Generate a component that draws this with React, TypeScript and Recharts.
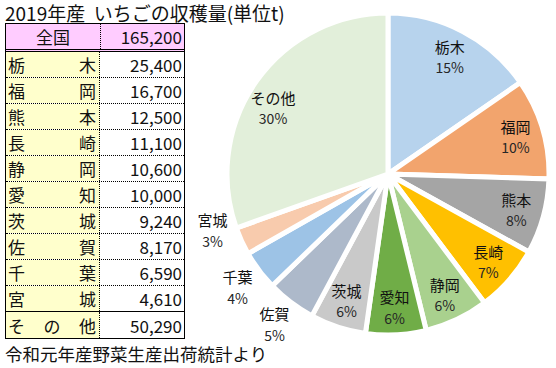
import { PieChart, Pie, Cell } from 'recharts';

const prefectures = ['栃木', '福岡', '熊本', '長崎', '静岡', '愛知', '茨城', '佐賀', '千葉', '宮城', 'その他'];
const harvest = [25400, 16700, 12500, 11100, 10600, 10000, 9240, 8170, 6590, 4610, 50290];
const totalHarvest = 165200;
const sliceColors = [
  '#B7D3ED', '#F2A46D', '#A5A5A5', '#FFC000', '#A9D18E', '#70AD47',
  '#C9C9C9', '#ADB9CA', '#9DC3E6', '#F8CBAD', '#E2EFDA',
];

const titleText = '2019年産  いちごの収穫量(単位t)';
const sourceText = '令和元年産野菜生産出荷統計より';

const chartData = prefectures.map((name, i) => ({ name, value: harvest[i] }));

const RAD = Math.PI / 180;
const FONT = '"Noto Sans CJK JP", "Noto Sans", sans-serif';

// small slices get their label outside the pie, like Excel's best fit
function SliceLabel(props: any) {
  const { cx, cy, midAngle, index, percent } = props;
  const outside = index >= 7 && index <= 9;
  let r = outside ? 188 : 133;
  let angle = midAngle;
  if (index === 9) {
    r = 184;
    angle = midAngle - 7;
  }
  if (index === 10) angle = midAngle + 5;
  const x = cx + r * Math.cos(-angle * RAD);
  const y = cy + r * Math.sin(-angle * RAD);
  return (
    <g>
      <text x={x} y={y - 10} textAnchor="middle" dominantBaseline="central"
        fontSize={15} fill="#111" fontFamily={FONT}>
        {prefectures[index]}
      </text>
      <text x={x} y={y + 11} textAnchor="middle" dominantBaseline="central"
        fontSize={14} fill="#262626" fontFamily={FONT}>
        {Math.round(percent * 100)}%
      </text>
    </g>
  );
}

function NameCell({ name }: { name: string }) {
  return (
    <div style={{
      width: 94, height: '100%', boxSizing: 'border-box', padding: '0 3px 0 2px',
      display: 'flex', justifyContent: 'space-between', alignItems: 'center',
      background: '#FFFFCC', borderRight: '1px dotted #000',
    }}>
      {name.split('').map((ch, i) => <span key={i}>{ch}</span>)}
    </div>
  );
}

function HarvestTable() {
  const rowStyle = (i: number): React.CSSProperties => ({
    display: 'flex', height: 26, boxSizing: 'border-box',
    borderBottom: i === prefectures.length - 1 ? 'none'
      : i === prefectures.length - 2 ? '1px solid #000' : '1px dotted #000',
  });
  return (
    <div style={{
      position: 'absolute', left: 5, top: 23, width: 178, border: '1px solid #000',
      fontFamily: FONT, fontSize: 17, color: '#111', lineHeight: 1, background: '#fff',
    }}>
      <div style={{ display: 'flex', height: 28, boxSizing: 'border-box', background: '#FFCCFF', borderBottom: '3px double #000' }}>
        <div style={{ width: 94, display: 'flex', justifyContent: 'center', alignItems: 'center', borderRight: '1px dotted #000' }}>全国</div>
        <div style={{ flex: 1, display: 'flex', justifyContent: 'flex-end', alignItems: 'center', paddingRight: 2 }}>
          {totalHarvest.toLocaleString('en-US')}
        </div>
      </div>
      {prefectures.map((name, i) => (
        <div key={name} style={rowStyle(i)}>
          <NameCell name={name} />
          <div style={{ flex: 1, display: 'flex', justifyContent: 'flex-end', alignItems: 'center', paddingRight: 2 }}>
            {harvest[i].toLocaleString('en-US')}
          </div>
        </div>
      ))}
    </div>
  );
}

export default function App() {
  return (
    <div style={{ position: 'absolute', left: 0, top: 0, width: 556, height: 368, background: '#fff', overflow: 'hidden' }}>
      <PieChart width={556} height={368} margin={{ top: 0, right: 0, bottom: 0, left: 0 }}>
        <Pie
          data={chartData}
          dataKey="value"
          nameKey="name"
          cx={388}
          cy={174}
          outerRadius={161}
          startAngle={90}
          endAngle={-270}
          stroke="#fff"
          strokeWidth={5}
          label={SliceLabel}
          labelLine={false}
          isAnimationActive={false}
        >
          {chartData.map((_, i) => (
            <Cell key={i} fill={sliceColors[i]} />
          ))}
        </Pie>
      </PieChart>
      <div style={{ position: 'absolute', left: 5, top: 2, fontFamily: FONT, fontSize: 19, lineHeight: '22px', color: '#111', whiteSpace: 'pre' }}>
        {titleText}
      </div>
      <HarvestTable />
      <div style={{ position: 'absolute', left: 5, top: 343, fontFamily: FONT, fontSize: 17.5, lineHeight: '22px', color: '#111', whiteSpace: 'pre' }}>
        {sourceText}
      </div>
    </div>
  );
}
